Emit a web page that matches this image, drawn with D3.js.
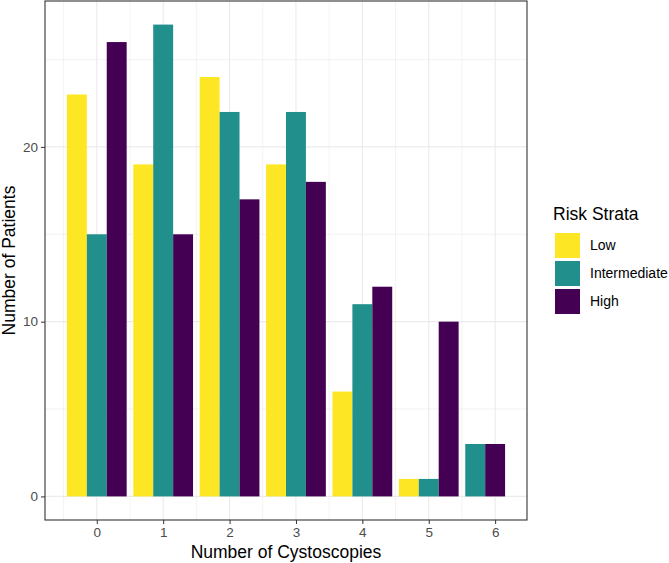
<!DOCTYPE html>
<html>
<head>
<meta charset="utf-8">
<script src="https://cdn.jsdelivr.net/npm/d3@7"></script>
<style>
  body { margin: 0; background: #fff; }
  text { font-family: "Liberation Sans", Arial, sans-serif; }
</style>
</head>
<body>
<div id="chart"></div>
<script>
// data
const cystoscopies = ["0", "1", "2", "3", "4", "5", "6"];
const strata = ["Low", "Intermediate", "High"];
const lowCounts = [23, 19, 24, 19, 6, 1, null];
const intermediateCounts = [15, 27, 22, 22, 11, 1, 3];
const highCounts = [26, 15, 17, 18, 12, 10, 3];
const yTicks = [0, 10, 20];
const colors = ["#FDE725", "#21908C", "#440154"];

const W = 669, H = 563;
const margin = { top: 1, right: 142, bottom: 43, left: 45 };
const pw = W - margin.left - margin.right,
      ph = H - margin.top - margin.bottom;

const svg = d3.select("#chart").append("svg")
  .attr("width", W).attr("height", H);

const g = svg.append("g")
  .attr("transform", `translate(${margin.left},${margin.top})`);

// build bar rows; missing groups are skipped and the rest are packed from the left
const series = [lowCounts, intermediateCounts, highCounts];
const barW = 0.3;
let bars = [];
cystoscopies.forEach((c, i) => {
  let slot = 0;
  series.forEach((s, k) => {
    if (s[i] == null) return;
    const x0 = +c - 0.45 + slot * barW;
    bars.push({ x0: x0, x1: x0 + barW, value: s[i], k: k });
    slot++;
  });
});

// continuous scales with 5% expansion like ggplot
const xmin = d3.min(bars, d => d.x0), xmax = d3.max(bars, d => d.x1);
const xpad = (xmax - xmin) * 0.05;
const x = d3.scaleLinear().domain([xmin - xpad, xmax + xpad]).range([0, pw]);

const ymax = d3.max(bars, d => d.value);
const y = d3.scaleLinear().domain([-ymax * 0.05, ymax * 1.05]).range([ph, 0]);

// grid
const xMinor = d3.range(-0.5, 7, 1).filter(v => v >= x.domain()[0] && v <= x.domain()[1]);
const yMinor = [5, 15, 25];
g.selectAll(".xminor").data(xMinor).enter().append("line")
  .attr("x1", d => x(d)).attr("x2", d => x(d)).attr("y1", 0).attr("y2", ph)
  .attr("stroke", "#ebebeb").attr("stroke-width", 0.6);
g.selectAll(".yminor").data(yMinor).enter().append("line")
  .attr("y1", d => y(d)).attr("y2", d => y(d)).attr("x1", 0).attr("x2", pw)
  .attr("stroke", "#ebebeb").attr("stroke-width", 0.6);
g.selectAll(".xmajor").data(cystoscopies).enter().append("line")
  .attr("x1", d => x(+d)).attr("x2", d => x(+d)).attr("y1", 0).attr("y2", ph)
  .attr("stroke", "#ebebeb").attr("stroke-width", 1.1);
g.selectAll(".ymajor").data(yTicks).enter().append("line")
  .attr("y1", d => y(d)).attr("y2", d => y(d)).attr("x1", 0).attr("x2", pw)
  .attr("stroke", "#ebebeb").attr("stroke-width", 1.1);

// bars
g.selectAll(".bar").data(bars).enter().append("rect")
  .attr("x", d => x(d.x0))
  .attr("width", d => x(d.x1) - x(d.x0))
  .attr("y", d => y(d.value))
  .attr("height", d => y(0) - y(d.value))
  .attr("fill", d => colors[d.k]);

// axes
const xAxis = g.append("g")
  .attr("transform", `translate(0,${ph})`)
  .call(d3.axisBottom(x).tickValues(cystoscopies.map(Number)).tickFormat(d3.format("d")).tickSize(4).tickPadding(3));
const yAxis = g.append("g")
  .call(d3.axisLeft(y).tickValues(yTicks).tickSize(4).tickPadding(3));
[xAxis, yAxis].forEach(a => {
  a.select(".domain").remove();
  a.selectAll(".tick line").attr("stroke", "#333333").attr("stroke-width", 1);
  a.selectAll(".tick text").attr("fill", "#4d4d4d")
    .style("font-family", '"Liberation Sans", Arial, sans-serif').style("font-size", "13.5px");
});

// panel border
g.append("rect").attr("x", 0).attr("y", 0).attr("width", pw).attr("height", ph)
  .attr("fill", "none").attr("stroke", "#333333").attr("stroke-width", 1.1);

// axis titles
svg.append("text")
  .attr("x", margin.left + pw / 2).attr("y", 558)
  .attr("text-anchor", "middle").style("font-size", "17.5px")
  .text("Number of Cystoscopies");
svg.append("text")
  .attr("transform", `translate(15,${margin.top + ph / 2}) rotate(-90)`)
  .attr("text-anchor", "middle").style("font-size", "17.5px")
  .text("Number of Patients");

// legend
const leg = svg.append("g").attr("transform", "translate(555,0)");
leg.append("text").attr("x", -2).attr("y", 220).style("font-size", "17.5px").text("Risk Strata");
strata.forEach((s, i) => {
  leg.append("rect").attr("x", 0).attr("y", 233 + i * 28)
    .attr("width", 25).attr("height", 25).attr("fill", colors[i]);
  leg.append("text").attr("x", 35).attr("y", 233 + i * 28 + 12.5)
    .attr("dy", "0.35em").style("font-size", "14px").text(s);
});
</script>
</body>
</html>
